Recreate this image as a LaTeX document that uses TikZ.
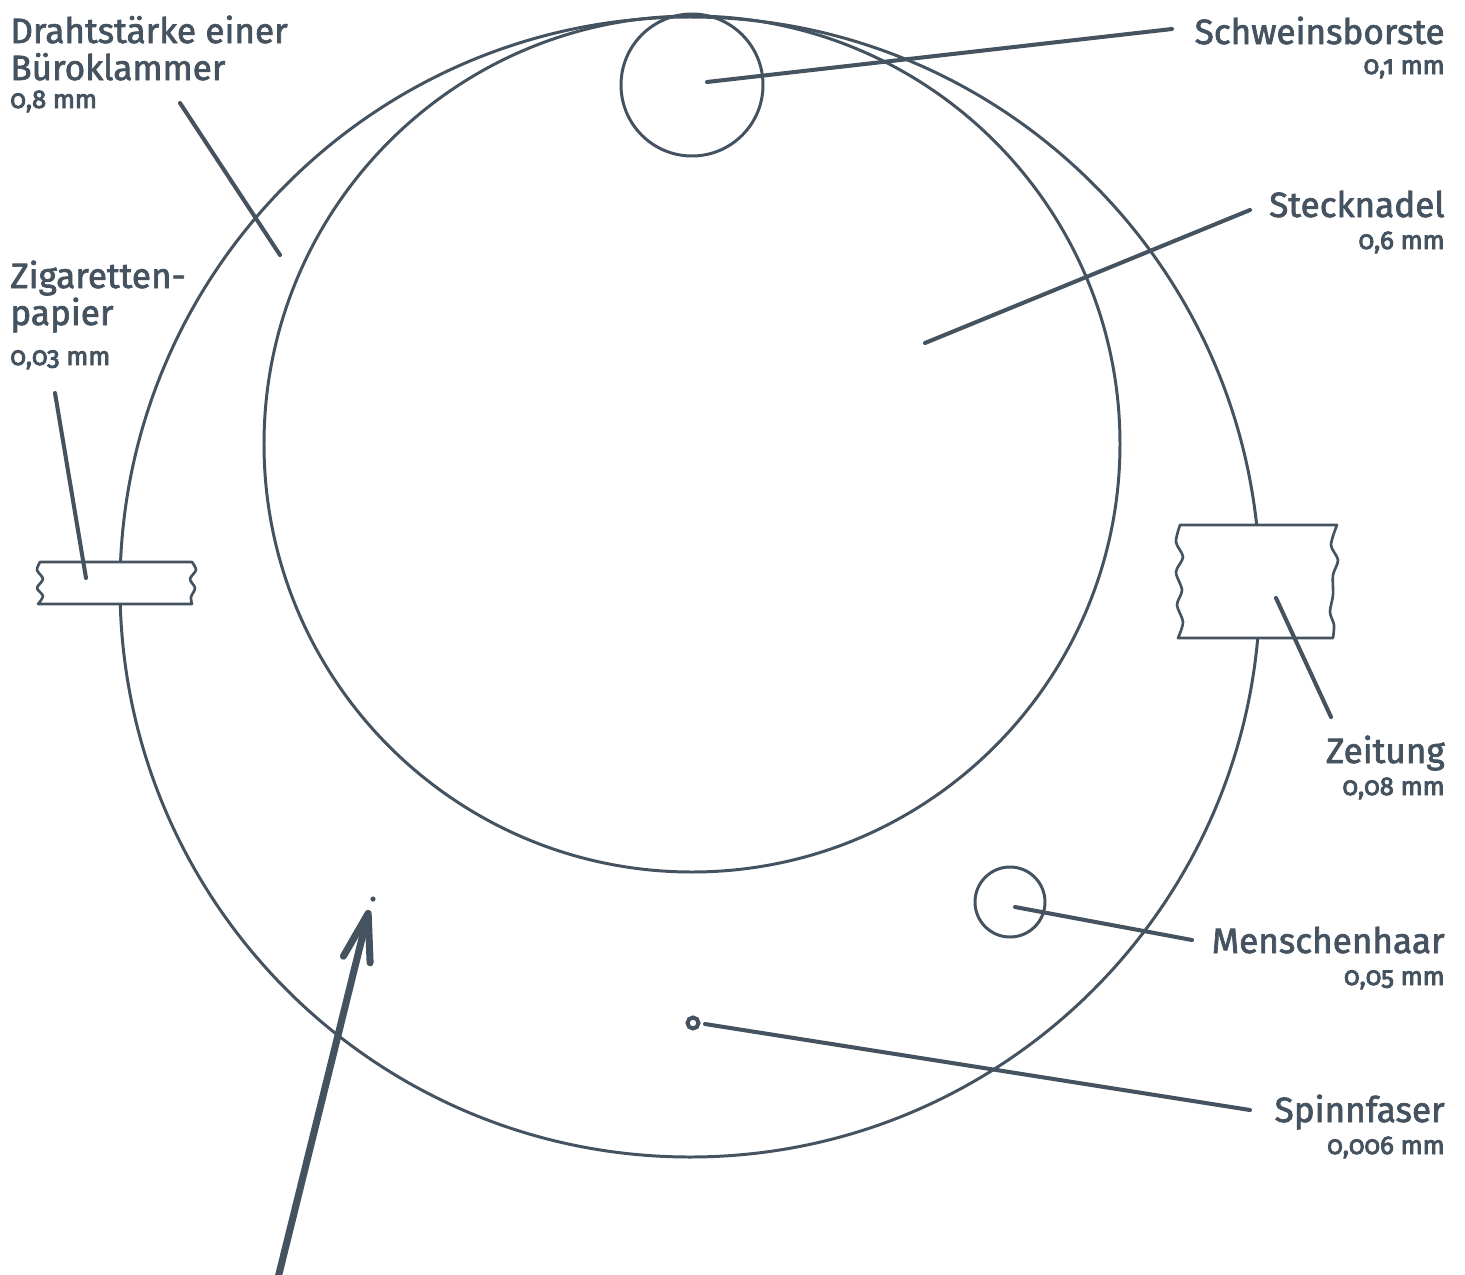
\documentclass[tikz,border=0pt]{standalone}
\usepackage{fontspec}
\setmainfont{Fira Sans}[Numbers=OldStyle, FakeBold=2]
\newfontfamily\sizefont{Fira Sans}[Numbers=OldStyle, FakeBold=3.5]
\usepackage{xcolor}
\usepackage{tikz}
\usetikzlibrary{arrows.meta, positioning}
\definecolor{slate}{HTML}{44535F}

\begin{document}
\begin{tikzpicture}[
    x=0.02cm, y=-0.02cm,
    ring/.style={draw=slate, line width=1.7pt},
    strip/.style={draw=slate, fill=white, line width=1.5pt, line join=round},
    leader/.style={draw=slate, line width=2.3pt, line cap=round},
    pointer/.style={draw=slate, line width=4pt, -{Straight Barb[length=9.5mm, width=5.5mm, round]}},
    objname/.style={font=\fontsize{20}{24}\selectfont, text=slate, inner sep=0pt},
    objsize/.style={font=\sizefont\fontsize{14.6}{17}\selectfont, text=slate, inner sep=0pt}
]
    \useasboundingbox (0,0) rectangle (1465,1275);

    % Circles
    \draw[ring] (690,587) circle[radius=570];
    \draw[ring] (692,444) circle[radius=428];
    \draw[ring] (692,85) circle[radius=71];
    \draw[ring] (1010,902) circle[radius=35];
    \draw[slate, line width=2.3pt] (693,1023) circle[radius=5.5];
    \fill[slate] (373,899) circle[radius=2.6];

    % Paper strips
    \draw[strip] (40,562) -- (192,562)
        -- plot[smooth] coordinates {(192,562) (196,570) (190,579) (195,588) (191,597) (192,604)}
        -- (38,604)
        -- plot[smooth] coordinates {(38,604) (43,596) (37,588) (43,579) (37,570) (40,562)} -- cycle;
    \draw[strip] (1180,525) -- (1337,525)
        -- plot[smooth] coordinates {(1337,525) (1331,545) (1338,560) (1333,575) (1333,595) (1330,612) (1334,625) (1333,638)}
        -- (1178,638)
        -- plot[smooth] coordinates {(1178,638) (1183,622) (1177,605) (1182,590) (1176,572) (1183,557) (1176,542) (1180,525)} -- cycle;

    % Labels
    \node[objname, anchor=base west] (draht1) at (10,43) {Drahtstärke einer};
    \node[objname, anchor=base west] (draht2) at (10,80) {Büroklammer};
    \node[objsize, anchor=base west] (drahtmm) at (10,108) {0,8 mm};
    \node[objname, anchor=base west] (zig1) at (10,288) {Zigaretten-};
    \node[objname, anchor=base west] (zig2) at (10,325) {papier};
    \node[objsize, anchor=base west] (zigmm) at (10,365) {0,03 mm};
    \node[objname, anchor=base east] (borste) at (1445,44) {Schweinsborste};
    \node[objsize, anchor=base east] (borstemm) at (1445,74) {0,1 mm};
    \node[objname, anchor=base east] (nadel) at (1445,217) {Stecknadel};
    \node[objsize, anchor=base east] (nadelmm) at (1445,249) {0,6 mm};
    \node[objname, anchor=base east] (zeitung) at (1445,763) {Zeitung};
    \node[objsize, anchor=base east] (zeitungmm) at (1445,795) {0,08 mm};
    \node[objname, anchor=base east] (haar) at (1445,953) {Menschenhaar};
    \node[objsize, anchor=base east] (haarmm) at (1445,985) {0,05 mm};
    \node[objname, anchor=base east] (faser) at (1445,1122) {Spinnfaser};
    \node[objsize, anchor=base east] (fasermm) at (1445,1154) {0,006 mm};

    % Leader ends
    \coordinate (borsteIn) at (707,82);   \coordinate (borsteOut) at (1172,29);
    \coordinate (nadelIn) at (925,343);   \coordinate (nadelOut) at (1250,210);
    \coordinate (drahtIn) at (280,255);   \coordinate (drahtOut) at (180,103);
    \coordinate (zigIn) at (86,578);      \coordinate (zigOut) at (55,393);
    \coordinate (zeitungIn) at (1276,598);\coordinate (zeitungOut) at (1331,717);
    \coordinate (haarIn) at (1015,907);   \coordinate (haarOut) at (1192,940);
    \coordinate (faserIn) at (705,1024);  \coordinate (faserOut) at (1250,1110);
    \coordinate (arrowFoot) at (277,1282);\coordinate (arrowTip) at (369,910);

    % Lines
    \draw[leader] (borsteIn) -- (borsteOut);
    \draw[leader] (nadelIn) -- (nadelOut);
    \draw[leader] (drahtIn) -- (drahtOut);
    \draw[leader] (zigIn) -- (zigOut);
    \draw[leader] (zeitungIn) -- (zeitungOut);
    \draw[leader] (haarIn) -- (haarOut);
    \draw[leader] (faserIn) -- (faserOut);
    \draw[pointer] (arrowFoot) -- (arrowTip);
\end{tikzpicture}
\end{document}
